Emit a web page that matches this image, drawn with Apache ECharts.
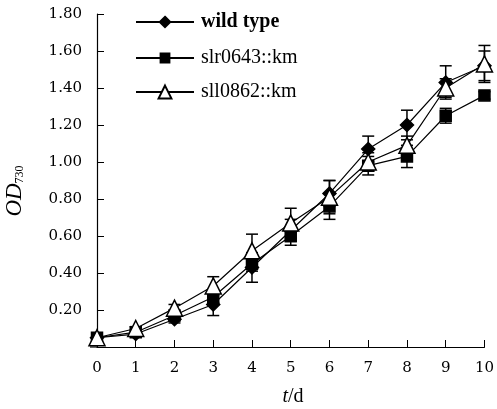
<!DOCTYPE html>
<html><head><meta charset="utf-8">
<script src="https://cdn.jsdelivr.net/npm/echarts@6/dist/echarts.min.js"></script>
<style>html,body{margin:0;padding:0;background:#fff}#c{width:497px;height:409px}</style>
</head><body><div id="c"></div>
<script>
var days = [0,1,2,3,4,5,6,7,8,9,10];
var seriesNames = ['wild type','slr0643::km','sll0862::km'];
var wildType = [0.05,0.07,0.15,0.23,0.43,0.63,0.83,1.07,1.20,1.43,1.52];
var slr0643  = [0.05,0.08,0.17,0.27,0.45,0.60,0.76,0.98,1.03,1.25,1.36];
var sll0862  = [0.05,0.10,0.21,0.33,0.52,0.67,0.81,1.00,1.09,1.40,1.53];
var wildErr  = [0.01,0.01,0.02,0.06,0.08,0.06,0.07,0.07,0.08,0.09,0.08];
var slrErr   = [0.01,0.01,0.02,0.03,0.04,0.05,0.07,0.05,0.06,0.04,0.02];
var sllErr   = [0.01,0.01,0.02,0.05,0.09,0.08,0.09,0.05,0.05,0.05,0.10];
var yTicks = {min:0, max:1.8, step:0.2};
var xTicks = {min:0, max:10, step:1};

var FONT = '"Liberation Serif","DejaVu Serif",serif';
var TICKFONT = '"DejaVu Serif","Liberation Serif",serif';
function pts(v){ return days.map(function(d,i){return [d,v[i]];}); }
function errData(v,e){ return days.map(function(d,i){return [d,v[i]-e[i],v[i]+e[i]];}); }
function errSeries(v,e){
  return {type:'custom', silent:true, z:1, data:errData(v,e),
    renderItem:function(params,api){
      var x=api.value(0), lo=api.coord([x,api.value(1)]), hi=api.coord([x,api.value(2)]);
      var w=6, st={stroke:'#000',lineWidth:1.5};
      return {type:'group',children:[
        {type:'line',shape:{x1:lo[0],y1:lo[1],x2:hi[0],y2:hi[1]},style:st},
        {type:'line',shape:{x1:lo[0]-w,y1:lo[1],x2:lo[0]+w,y2:lo[1]},style:st},
        {type:'line',shape:{x1:hi[0]-w,y1:hi[1],x2:hi[0]+w,y2:hi[1]},style:st}
      ]};
    }};
}
var markers = [
  {symbol:'diamond', size:13, color:'#000'},
  {symbol:'rect', size:11, color:'#000'},
  {symbol:'triangle', size:16, color:'#fff'}
];
var vals=[wildType,slr0643,sll0862];
var lineSeries = seriesNames.map(function(n,i){
  return {name:n,type:'line',data:pts(vals[i]),z:3+i,symbol:markers[i].symbol,symbolSize:markers[i].size,
    lineStyle:{color:'#000',width:1.2},
    itemStyle:{color:markers[i].color,borderColor:'#000',borderWidth:1.5}};
});
var legendCenters=[22,58,92];
var legends = seriesNames.map(function(n,i){
  return {data:[n],left:135,top:legendCenters[i]-12,itemWidth:58,itemHeight:markers[i].size,itemGap:0,padding:0,
    textStyle:{fontFamily:FONT,fontSize:20,lineHeight:24,color:'#000',fontWeight:i===0?'bold':'normal',padding:[0,0,0,2]}};
});
var chart = echarts.init(document.getElementById('c'));
chart.setOption({
  animation:false,
  backgroundColor:'#fff',
  grid:{left:97,right:7,top:14,bottom:62},
  legend:legends,
  xAxis:{type:'value',min:xTicks.min,max:xTicks.max,interval:xTicks.step,
    axisLine:{lineStyle:{color:'#000',width:1.2}},
    axisTick:{inside:true,length:7,lineStyle:{color:'#000'}},
    axisLabel:{color:'#000',fontFamily:TICKFONT,fontSize:15,margin:14},
    splitLine:{show:false}},
  yAxis:{type:'value',min:yTicks.min,max:yTicks.max,interval:yTicks.step,
    axisLine:{show:true,lineStyle:{color:'#000',width:1.2}},
    axisTick:{show:true,inside:true,length:7,lineStyle:{color:'#000'}},
    axisLabel:{color:'#000',fontFamily:TICKFONT,fontSize:15,margin:15,
      formatter:function(v){return v===0?'':v.toFixed(2);}},
    splitLine:{show:false}},
  graphic:[
    {type:'line',shape:{x1:90,y1:347,x2:97,y2:347},style:{stroke:'#000',lineWidth:1.2}},
    {type:'text',x:15,y:191,rotation:Math.PI/2,
      style:{text:'{i|OD}{s|730}',align:'center',verticalAlign:'middle',
        rich:{i:{fontFamily:FONT,fontStyle:'italic',fontSize:23,fill:'#000'},
              s:{fontFamily:FONT,fontSize:12,fill:'#000',padding:[10,0,0,0]}}}},
    {type:'text',x:293,y:397,
      style:{text:'{i|t}{n|/d}',align:'center',verticalAlign:'middle',
        rich:{i:{fontFamily:FONT,fontStyle:'italic',fontSize:20,fill:'#000'},
              n:{fontFamily:FONT,fontSize:20,fill:'#000'}}}}
  ],
  series:[errSeries(wildType,wildErr),errSeries(slr0643,slrErr),errSeries(sll0862,sllErr)].concat(lineSeries)
});
</script></body></html>
